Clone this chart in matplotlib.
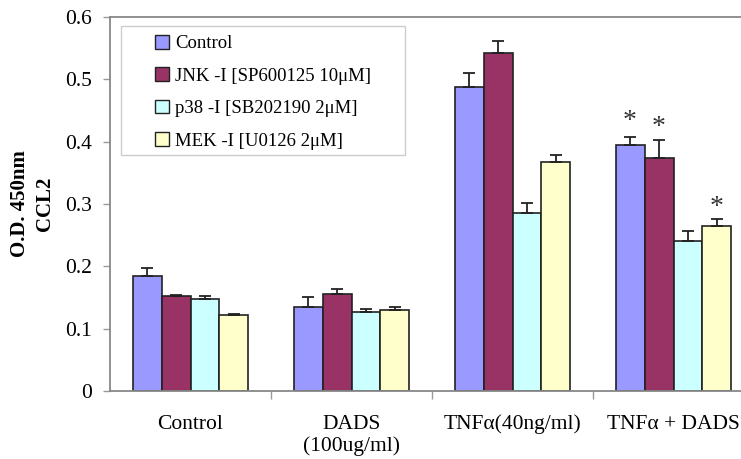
import matplotlib
matplotlib.use("Agg")
import matplotlib.pyplot as plt
from matplotlib.patches import Rectangle
import numpy as np

plt.rcParams['font.family'] = ['Liberation Serif', 'DejaVu Serif']

groups = ["Control", "DADS\n(100ug/ml)", "TNFα(40ng/ml)", "TNFα + DADS"]
series = ["Control", "JNK -I [SP600125 10μM]", "p38 -I [SB202190 2μM]", "MEK -I [U0126 2μM]"]
colors = ["#9999FF", "#993366", "#CCFFFF", "#FFFFCC"]

control_vals = [0.185, 0.134, 0.487, 0.394]
jnk_vals = [0.152, 0.156, 0.5425, 0.3735]
p38_vals = [0.147, 0.126, 0.285, 0.240]
mek_vals = [0.122, 0.130, 0.368, 0.264]

control_err = [0.012, 0.017, 0.023, 0.014]
jnk_err = [0.002, 0.008, 0.019, 0.029]
p38_err = [0.006, 0.005, 0.016, 0.017]
mek_err = [0.002, 0.004, 0.011, 0.012]

# significance markers: (series index, group index)
stars = [(0, 3), (1, 3), (3, 3)]

values = [control_vals, jnk_vals, p38_vals, mek_vals]
errors = [control_err, jnk_err, p38_err, mek_err]

fig = plt.figure(figsize=(7.41, 4.59), dpi=100)
ax = fig.add_axes([110/741, 68/459, 644/741, 374/459])

x = np.arange(len(groups))
bw = 0.18
for i, (vals, errs, c, name) in enumerate(zip(values, errors, colors, series)):
    pos = x + (i - 1.5) * bw
    ax.bar(pos, vals, bw, color=c, edgecolor="#222222", linewidth=1.2, label=name, zorder=2)
    ax.errorbar(pos, vals, yerr=[np.zeros(len(errs)), errs], fmt="none",
                ecolor="#222222", elinewidth=1.3, capsize=4, capthick=1.3, zorder=3)

offsets = {0: 0.024, 1: 0.020, 3: 0.018}
for si, gi in stars:
    xp = x[gi] + (si - 1.5) * bw
    top = values[si][gi] + errors[si][gi]
    ax.text(xp, top + offsets[si], "*", ha="center", va="center", fontsize=20, color="#333333")

ax.set_xlim(-0.5, 3.5)
ax.set_ylim(0, 0.6)
ax.set_yticks(np.arange(0, 0.61, 0.1))
ax.set_yticklabels(["0", "0.1", "0.2", "0.3", "0.4", "0.5", "0.6"])
ax.set_xticks(x)
ax.set_xticklabels(groups, fontsize=15.5, linespacing=1.15)
ax.set_xticks([0.5, 1.5, 2.5], minor=True)
ax.tick_params(axis="x", which="major", length=0, pad=17)
ax.tick_params(axis="x", which="minor", length=6, color="#999999", width=1)
ax.tick_params(axis="y", length=5, color="#999999", width=1, labelsize=15.5, pad=8)

for s in ["left", "bottom", "top"]:
    ax.spines[s].set_color("#888888")
    ax.spines[s].set_linewidth(1.3)
ax.spines["right"].set_visible(False)

ax.set_ylabel("O.D. 450nm\nCCL2", fontsize=15, fontweight="bold", labelpad=7, linespacing=1.35)

leg = ax.legend(loc="upper left", bbox_to_anchor=(0.07, 0.952), borderaxespad=0,
                fontsize=13.5, frameon=False,
                handlelength=0.75, handleheight=0.75, handletextpad=0.3,
                labelspacing=0.8, borderpad=0.0)
for h in leg.legend_handles:
    h.set_edgecolor("#222222")
    h.set_linewidth(1.0)

# frame around the legend with Excel-like padding
fig.canvas.draw()
bb = leg.get_window_extent().transformed(ax.transAxes.inverted())
axw = 644.0
axh = 374.0
padx = 34 / axw
padt = 9 / axh
padb = 5 / axh
frame = Rectangle((bb.x0 - padx, bb.y0 - padb), bb.width + 2 * padx, bb.height + padt + padb,
                  transform=ax.transAxes, facecolor="white", edgecolor="#cccccc",
                  linewidth=1.0, zorder=1.5)
ax.add_patch(frame)
leg.set_zorder(5)

fig.savefig("out.png", dpi=100)
